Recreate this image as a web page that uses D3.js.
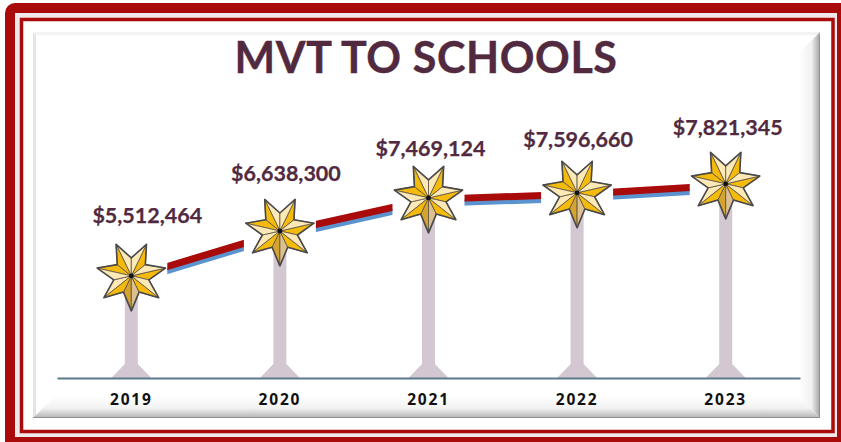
<!DOCTYPE html>
<head>
    <meta charset="utf-8">
    <style>
        body { margin: 0; background: #fff; }
        svg { display: block; }
        .title { font-family: Lato, sans-serif; font-weight: 700; font-size: 43px; fill: #522a3f; stroke: #522a3f; stroke-width: 0.4px; text-anchor: middle; letter-spacing: 0.6px; }
        .value-label { font-family: Lato, sans-serif; font-weight: 700; font-size: 21.5px; fill: #522a3f; stroke: #522a3f; stroke-width: 0.25px; text-anchor: middle; }
        .x-axis text { font-family: "Noto Sans", sans-serif; font-weight: 700; font-size: 15.5px; fill: #111; letter-spacing: 1.8px; }
        .x-axis path { stroke: #5b7a8f; stroke-width: 2px; }
        .stem { fill: #d3c7d2; }
        .facet { stroke: #5a5040; stroke-width: 0.8px; stroke-linejoin: round; }
    </style>
</head>

<body>
    <script src="https://d3js.org/d3.v7.min.js"></script>

    <script>
        // values
        var years = ["2019", "2020", "2021", "2022", "2023"];
        var amounts = [5512464, 6638300, 7469124, 7596660, 7821345];
        var titleText = "MVT TO SCHOOLS";

        // hand placed label offsets, the original labels were dragged around
        var labelDx = [16, 6, 2, 1, 2];
        var labelDy = [-53, -50, -42, -46, -49];

        // facet colours of the star, clockwise from the bottom tip
        var gold = "#f5bb0c", pale = "#fde9b5";
        var cwFacet = ["#d5a330", pale, gold, pale, gold, gold, gold];
        var ccwFacet = ["#dcc08f", gold, pale, gold, pale, pale, pale];

        var width = 841, height = 442;

        var svg = d3.select("body").append("svg")
            .attr("width", width)
            .attr("height", height);

        var x = d3.scaleBand().domain(years).range([57, 800]);
        var y = d3.scaleLinear().domain([2950000, 10000000]).range([378, 97]);

        function cx(i) { return x(years[i]) + x.bandwidth() / 2; }

        //gradients for the bevel on the panel
        var defs = svg.append("defs");
        var rightGrad = defs.append("linearGradient").attr("id", "bevel-right");
        rightGrad.append("stop").attr("offset", "0%").attr("stop-color", "#fff");
        rightGrad.append("stop").attr("offset", "60%").attr("stop-color", "#f2f2f2");
        rightGrad.append("stop").attr("offset", "100%").attr("stop-color", "#a2a2a2");
        var bottomGrad = defs.append("linearGradient").attr("id", "bevel-bottom")
            .attr("x1", 0).attr("y1", 0).attr("x2", 0).attr("y2", 1);
        bottomGrad.append("stop").attr("offset", "0%").attr("stop-color", "#fff");
        bottomGrad.append("stop").attr("offset", "55%").attr("stop-color", "#f2f2f2");
        bottomGrad.append("stop").attr("offset", "100%").attr("stop-color", "#b4b4b4");

        //red frame
        svg.append("rect").attr("x", 5).attr("y", 3).attr("width", 846).attr("height", 449)
            .attr("rx", 10).attr("fill", "#a90a0a");
        svg.append("rect").attr("x", 15).attr("y", 13).attr("width", 822).attr("height", 424)
            .attr("fill", "#f1e9e9");
        svg.append("rect").attr("x", 21.5).attr("y", 19.5).attr("width", 811.5).attr("height", 412)
            .attr("fill", "#fff").attr("stroke", "#a90a0a").attr("stroke-width", 3.5);

        //bevelled panel
        svg.append("rect").attr("x", 33).attr("y", 32).attr("width", 787).attr("height", 386)
            .attr("fill", "#fff");
        svg.append("polygon").attr("points", "33,32 36,35 36,415 33,418").attr("fill", "#e4e4e4");
        svg.append("polygon").attr("points", "33,32 820,32 817,35 36,35").attr("fill", "#f3f3f3");
        svg.append("polygon").attr("points", "820,32 820,418 798,396 798,54").attr("fill", "url(#bevel-right)");
        svg.append("polygon").attr("points", "33,418 820,418 798,396 55,396").attr("fill", "url(#bevel-bottom)");
        svg.append("line").attr("x1", 33).attr("x2", 820).attr("y1", 417.5).attr("y2", 417.5)
            .attr("stroke", "#8f8f8f");
        svg.append("line").attr("x1", 819.5).attr("x2", 819.5).attr("y1", 36).attr("y2", 418)
            .attr("stroke", "#8f8f8f");

        svg.append("text")
            .attr("class", "title")
            .attr("x", 426)
            .attr("y", 73)
            .text(titleText);

        //the line stops short of each star, one clipped piece per gap
        var gap = 36;
        var clip = defs.append("clipPath").attr("id", "line-gaps");
        clip.selectAll("rect")
            .data(years.slice(1))
            .enter().append("rect")
            .attr("x", function(d, i) { return cx(i) + gap; })
            .attr("width", function(d, i) { return cx(i + 1) - cx(i) - 2 * gap; })
            .attr("y", 0)
            .attr("height", height);

        var valueline = d3.line()
            .x(function(d, i) { return cx(i); })
            .y(function(d) { return y(d); });

        var lines = svg.append("g").attr("clip-path", "url(#line-gaps)");
        lines.append("path")
            .datum(amounts)
            .attr("d", valueline)
            .attr("transform", "translate(0,6)")
            .attr("fill", "none")
            .attr("stroke", "#5b93cf")
            .attr("stroke-width", 6);
        lines.append("path")
            .datum(amounts)
            .attr("d", valueline)
            .attr("transform", "translate(0,1.5)")
            .attr("fill", "none")
            .attr("stroke", "#a90a0a")
            .attr("stroke-width", 7);

        //stems with the little flared foot
        svg.selectAll(".stem")
            .data(amounts)
            .enter().append("path")
            .attr("class", "stem")
            .attr("d", function(d, i) {
                var p = d3.path(), c = cx(i), base = y.range()[0];
                p.moveTo(c - 6.5, y(d));
                p.lineTo(c + 6.5, y(d));
                p.lineTo(c + 6.5, base - 14);
                p.lineTo(c + 20, base);
                p.lineTo(c - 20, base);
                p.lineTo(c - 6.5, base - 14);
                p.closePath();
                return p.toString();
            });

        //x axis
        svg.append("g")
            .attr("class", "x-axis")
            .attr("transform", "translate(0,378)")
            .call(d3.axisBottom(x).tickSize(0).tickPadding(16));

        //stars
        var tips = d3.range(7);
        var outerR = 35, innerR = 18;
        function tipPoint(k, r) {
            var a = Math.PI / 2 + k * 2 * Math.PI / 7;
            return [r * Math.cos(a), r * Math.sin(a)];
        }

        var stars = svg.selectAll(".star")
            .data(amounts)
            .enter().append("g")
            .attr("class", "star")
            .attr("transform", function(d, i) { return "translate(" + cx(i) + "," + y(d) + ")"; });

        tips.forEach(function(k) {
            var tip = tipPoint(k, outerR);
            var cw = tipPoint(k + 0.5, innerR);
            var ccw = tipPoint(k - 0.5, innerR);
            stars.append("path")
                .attr("class", "facet")
                .attr("fill", cwFacet[k])
                .attr("d", "M0,0L" + tip + "L" + cw + "Z");
            stars.append("path")
                .attr("class", "facet")
                .attr("fill", ccwFacet[k])
                .attr("d", "M0,0L" + tip + "L" + ccw + "Z");
        });

        //darker outline of the whole star on top
        stars.append("path")
            .attr("fill", "none")
            .attr("stroke", "#4a4a4a")
            .attr("stroke-width", 1.6)
            .attr("stroke-linejoin", "round")
            .attr("d", "M" + tips.map(function(k) {
                return tipPoint(k, outerR) + "L" + tipPoint(k + 0.5, innerR);
            }).join("L") + "Z");

        stars.append("circle").attr("r", 2.4).attr("fill", "#111");

        //value labels
        svg.selectAll(".value-label")
            .data(amounts)
            .enter().append("text")
            .attr("class", "value-label")
            .attr("x", function(d, i) { return cx(i) + labelDx[i]; })
            .attr("y", function(d, i) { return y(d) + labelDy[i]; })
            .text(d3.format("$,"));
    </script>
</body>
